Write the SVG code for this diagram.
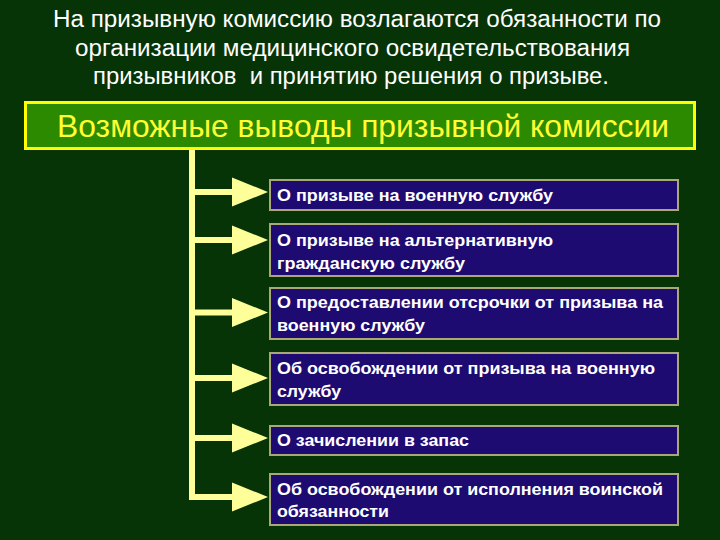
<svg xmlns="http://www.w3.org/2000/svg" width="720" height="540" viewBox="0 0 720 540">
<style>
.hd{font-family:"Liberation Sans",Arial,sans-serif;font-size:23px;fill:#ffffff;white-space:pre}
.tt{font-family:"Liberation Sans",Arial,sans-serif;font-size:32px;fill:#ffff33}
.bx{fill:#1e0b72;stroke:#a8a878;stroke-width:2}
.lb{font-family:"Liberation Sans",Arial,sans-serif;font-size:16.5px;font-weight:bold;fill:#ffffff}
.cn{fill:#ffff99}
</style>
<defs>
<path id="arr" d="M0,-3 L40,-3 L40,-14.5 L76,0 L40,14.5 L40,3 L0,3 Z"/>
</defs>
<rect width="720" height="540" fill="#063406"/>
<g id="header">
<text class="hd" x="357" y="27" text-anchor="middle" textLength="608" lengthAdjust="spacingAndGlyphs">На призывную комиссию возлагаются обязанности по</text>
<text class="hd" x="352.5" y="56" text-anchor="middle" textLength="555" lengthAdjust="spacingAndGlyphs">организации медицинского освидетельствования</text>
<text class="hd" x="351" y="84" text-anchor="middle" textLength="516" lengthAdjust="spacingAndGlyphs">призывников  и принятию решения о призыве.</text>
</g>
<g id="title">
<rect x="25.5" y="102.5" width="669" height="46" fill="#2b8a00" stroke="#ffff00" stroke-width="3"/>
<text class="tt" x="363" y="137" text-anchor="middle" textLength="612" lengthAdjust="spacingAndGlyphs">Возможные выводы призывной комиссии</text>
</g>
<g id="connectors">
<rect class="cn" x="189" y="150" width="6" height="350"/>
<use href="#arr" class="cn" x="192" y="192"/>
<use href="#arr" class="cn" x="192" y="240"/>
<use href="#arr" class="cn" x="192" y="312.5"/>
<use href="#arr" class="cn" x="192" y="378"/>
<use href="#arr" class="cn" x="192" y="438"/>
<use href="#arr" class="cn" x="192" y="497"/>
</g>
<g id="n1">
<rect class="bx" x="270" y="180" width="408" height="30"/>
<text class="lb" x="277" y="201" textLength="276" lengthAdjust="spacingAndGlyphs">О призыве на военную службу</text>
</g>
<g id="n2">
<rect class="bx" x="270" y="224" width="408" height="52"/>
<text class="lb" x="277" y="246" textLength="276" lengthAdjust="spacingAndGlyphs">О призыве на альтернативную</text>
<text class="lb" x="277" y="269" textLength="188" lengthAdjust="spacingAndGlyphs">гражданскую службу</text>
</g>
<g id="n3">
<rect class="bx" x="270" y="288" width="408" height="51"/>
<text class="lb" x="277" y="308" textLength="386" lengthAdjust="spacingAndGlyphs">О предоставлении отсрочки от призыва на</text>
<text class="lb" x="277" y="331" textLength="148" lengthAdjust="spacingAndGlyphs">военную службу</text>
</g>
<g id="n4">
<rect class="bx" x="270" y="353" width="408" height="52"/>
<text class="lb" x="277" y="374" textLength="378" lengthAdjust="spacingAndGlyphs">Об освобождении от призыва на военную</text>
<text class="lb" x="277" y="397" textLength="64" lengthAdjust="spacingAndGlyphs">службу</text>
</g>
<g id="n5">
<rect class="bx" x="270" y="426" width="408" height="29"/>
<text class="lb" x="277" y="446" textLength="192" lengthAdjust="spacingAndGlyphs">О зачислении в запас</text>
</g>
<g id="n6">
<rect class="bx" x="270" y="474" width="408" height="51"/>
<text class="lb" x="277" y="495" textLength="386" lengthAdjust="spacingAndGlyphs">Об освобождении от исполнения воинской</text>
<text class="lb" x="277" y="517" textLength="112" lengthAdjust="spacingAndGlyphs">обязанности</text>
</g>
</svg>
